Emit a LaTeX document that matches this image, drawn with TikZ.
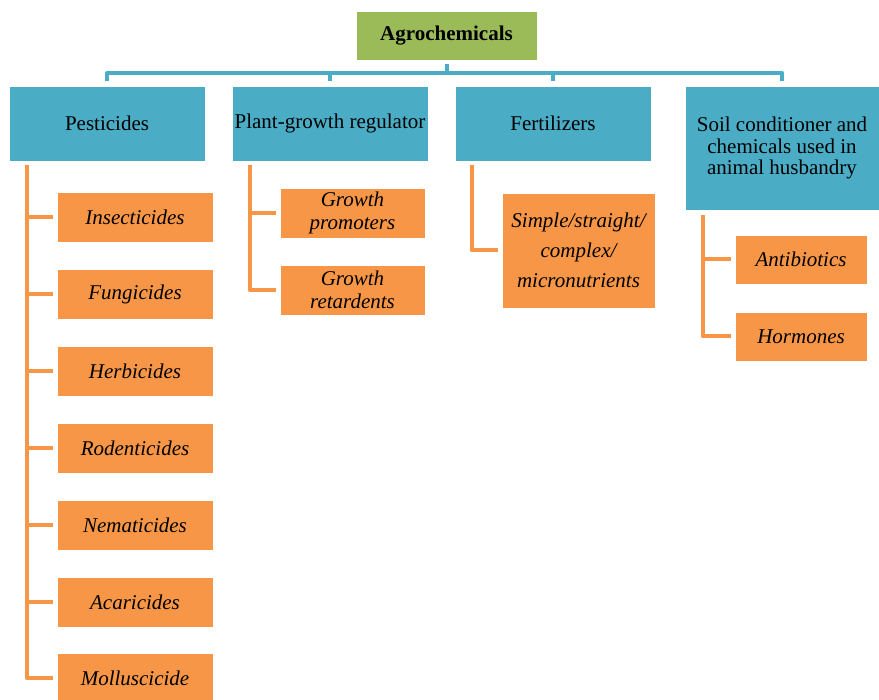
\documentclass[tikz,border=0pt]{standalone}
\usepackage{fontspec}
\setmainfont{Liberation Serif}
\definecolor{rootgreen}{HTML}{9BBB59}
\definecolor{catteal}{HTML}{4BACC6}
\definecolor{itemorange}{HTML}{F79646}
\begin{document}
\begin{tikzpicture}[x=1pt,y=-1pt,
  root/.style={fill=rootgreen, draw=white, line width=0.6pt, minimum width=181pt, minimum height=49pt,
    inner sep=0pt, font=\fontsize{21}{23}\selectfont\bfseries},
  cat/.style={fill=catteal, draw=white, line width=0.6pt, minimum width=196pt, minimum height=75pt,
    inner sep=0pt, align=center, font=\fontsize{21}{21.5}\selectfont},
  item/.style={fill=itemorange, draw=white, line width=0.6pt, inner sep=0pt, align=center,
    font=\fontsize{21}{23}\selectfont\itshape},
  bus/.style={draw=catteal, line width=4pt, line join=round},
  spine/.style={draw=itemorange, line width=4pt, line join=round}]
\useasboundingbox (0,0) rectangle (879,700);
\clip (0,0) rectangle (879,700);

% root and categories
\node[root] (agro) at (446.5,35.5) {Agrochemicals};
\node[cat] (pest) at (107,123.5) {Pesticides};
\node[cat] (pgr)  at (330,123.5) {Plant-growth regulator};
\node[cat] (fert) at (553,123.5) {Fertilizers};
\node[cat, minimum width=194pt, minimum height=124pt] (soil) at (782,148)
  {Soil conditioner and\\chemicals used in\\animal husbandry};

% pesticide items
\foreach \nm/\txt/\yy in {ins/Insecticides/217, fun/Fungicides/294, her/Herbicides/371,
  rod/Rodenticides/448, nem/Nematicides/525, aca/Acaricides/602, mol/Molluscicide/678}
  \node[item, minimum width=156pt, minimum height=50pt] (\nm) at (135,\yy) {\txt};

% plant-growth regulator items
\node[item, minimum width=145pt, minimum height=50pt] (gp) at (352.5,213) {Growth\\promoters};
\node[item, minimum width=145pt, minimum height=50pt] (gr) at (352.5,290) {Growth\\retardents};

% fertilizer item
\node[item, minimum width=153pt, minimum height=115pt, font=\fontsize{21}{30}\selectfont\itshape]
  (frt) at (578.5,250.5) {Simple/straight/\\complex/\\micronutrients};

% soil conditioner items
\node[item, minimum width=132pt, minimum height=49pt] (abx) at (801,259.5) {Antibiotics};
\node[item, minimum width=132pt, minimum height=49pt] (hor) at (801,336.5) {Hormones};

% top-level bus
\coordinate (hub) at (446.5,73);
\draw[bus] ([yshift=-4pt]agro.south) -- (hub);
\draw[bus] ([yshift=5pt]pest.north) |- (hub) -| ([yshift=5pt]soil.north);
\draw[bus] ([yshift=5pt]pgr.north) -- (pgr.north |- hub);
\draw[bus] ([yshift=5pt]fert.north) -- (fert.north |- hub);

% branch spines
\coordinate (ps) at ([xshift=18pt,yshift=-4pt]pest.south west);
\coordinate (gs) at ([xshift=18pt,yshift=-4pt]pgr.south west);
\coordinate (fs) at ([xshift=17pt,yshift=-4pt]fert.south west);
\coordinate (ss) at ([xshift=18pt,yshift=-5pt]soil.south west);

\draw[spine] (ps) |- ([xshift=-4pt]mol.west);
\foreach \nm in {ins,fun,her,rod,nem,aca}
  \draw[spine] (ps |- \nm.west) -- ([xshift=-4pt]\nm.west);

\draw[spine] (gs) |- ([xshift=-4pt]gr.west);
\draw[spine] (gs |- gp.west) -- ([xshift=-4pt]gp.west);

\draw[spine] (fs) |- ([xshift=-4pt]frt.west);

\draw[spine] (ss) |- ([xshift=-4pt]hor.west);
\draw[spine] (ss |- abx.west) -- ([xshift=-4pt]abx.west);
\end{tikzpicture}
\end{document}
